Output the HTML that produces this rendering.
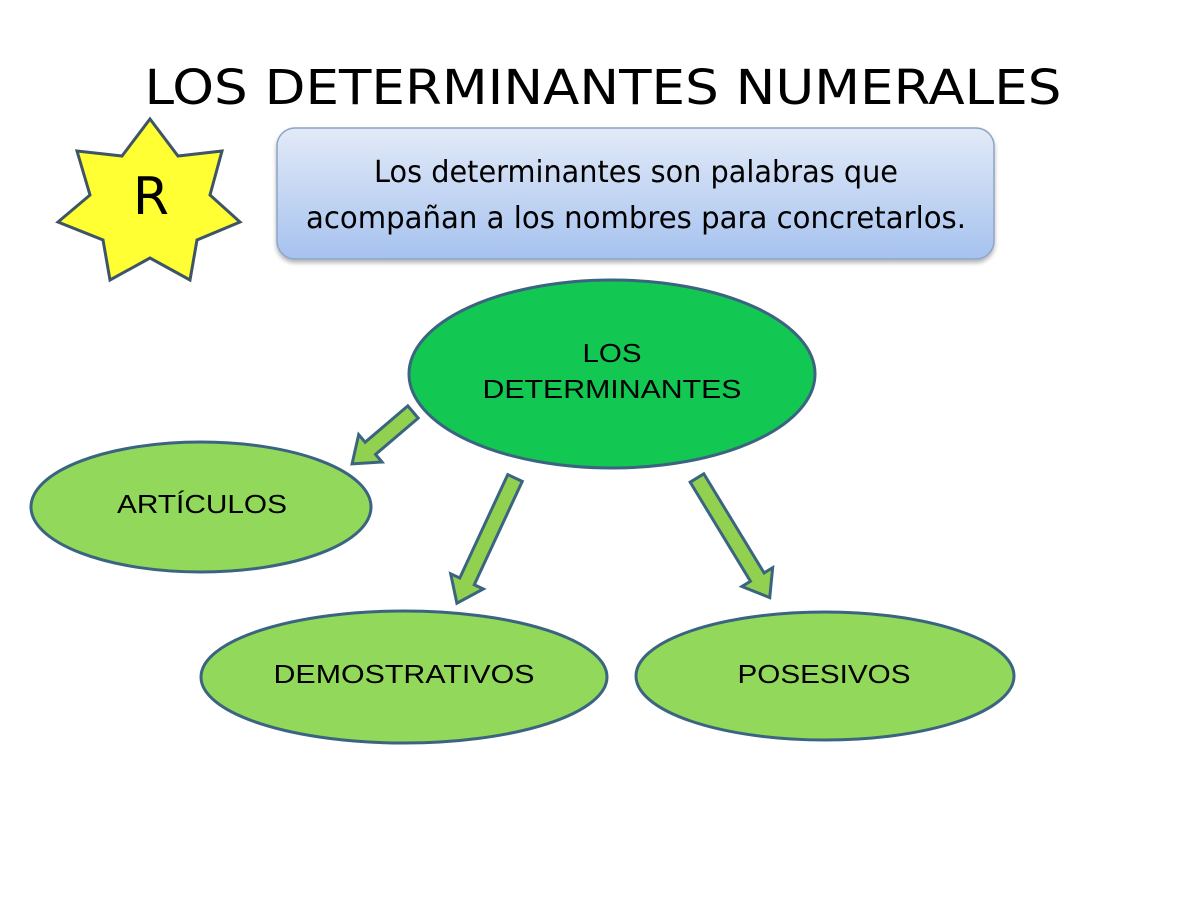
<!DOCTYPE html>
<html><head><meta charset="utf-8"><style>
html,body{margin:0;padding:0;background:#fff;width:1198px;height:900px;overflow:hidden}
svg{display:block}
</style></head><body>
<svg width="1198" height="900" viewBox="0 0 1198 900" xmlns="http://www.w3.org/2000/svg">
<defs>
<linearGradient id="bg" x1="0" y1="0" x2="0" y2="1">
<stop offset="0" stop-color="#e2eaf7"/><stop offset="1" stop-color="#a6c2ef"/>
</linearGradient>
<filter id="sh" x="-5%" y="-5%" width="110%" height="120%"><feDropShadow dx="0" dy="3" stdDeviation="2" flood-color="#000" flood-opacity="0.3"/></filter>
</defs>
<text x="603" y="104" text-anchor="middle" font-family="DejaVu Sans, Liberation Sans, sans-serif" font-size="48" textLength="917" lengthAdjust="spacingAndGlyphs" fill="#000">LOS DETERMINANTES NUMERALES</text>
<polygon points="150,119 178,156 222,151 210,195 240,222 197,240 190,280 150,258 110,280 103,240 58,222 90,195 77,151 122,156" fill="#ffff33" stroke="#3d5566" stroke-width="3" stroke-linejoin="miter"/>
<text x="151" y="214" text-anchor="middle" font-family="DejaVu Sans, sans-serif" font-size="52" fill="#000">R</text>
<rect x="277" y="128" width="717" height="131" rx="18" fill="url(#bg)" stroke="#8da4c4" stroke-width="1.5" filter="url(#sh)"/>
<text x="636" y="182" text-anchor="middle" font-family="DejaVu Sans, sans-serif" font-size="30" textLength="524" lengthAdjust="spacingAndGlyphs">Los determinantes son palabras que</text>
<text x="636" y="228" text-anchor="middle" font-family="DejaVu Sans, sans-serif" font-size="30" textLength="660" lengthAdjust="spacingAndGlyphs">acompañan a los  nombres para concretarlos.</text>
<g stroke="#3b6480" stroke-width="3">
<ellipse cx="612" cy="374" rx="203" ry="94" fill="#12c752"/>
<ellipse cx="201" cy="507" rx="170" ry="65" fill="#92d85a"/>
<ellipse cx="404" cy="677" rx="203" ry="66" fill="#92d85a"/>
<ellipse cx="825" cy="676" rx="189" ry="64" fill="#92d85a"/>
</g>
<g fill="#92d050" stroke="#3b6480" stroke-width="3" stroke-linejoin="miter">
<polygon transform="translate(413,412) rotate(139.6)" points="0,-8 56,-8 56,-18 80,0 56,18 56,8 0,8"/>
<polygon transform="translate(515,478) rotate(114.9)" points="0,-8 114,-8 114,-18 138,0 114,18 114,8 0,8"/>
<polygon transform="translate(697,478) rotate(58.7)" points="0,-8 116,-8 116,-18 140,0 116,18 116,8 0,8"/>
</g>
<g font-family="Liberation Sans, sans-serif" font-size="26" fill="#000" text-anchor="middle" lengthAdjust="spacingAndGlyphs">
<text x="612" y="362" textLength="59" lengthAdjust="spacingAndGlyphs">LOS</text>
<text x="612" y="398" textLength="259" lengthAdjust="spacingAndGlyphs">DETERMINANTES</text>
<text x="202" y="513" textLength="170" lengthAdjust="spacingAndGlyphs">ARTÍCULOS</text>
<text x="404" y="683" textLength="261" lengthAdjust="spacingAndGlyphs">DEMOSTRATIVOS</text>
<text x="824" y="683" textLength="173" lengthAdjust="spacingAndGlyphs">POSESIVOS</text>
</g>
</svg>
</body></html>
